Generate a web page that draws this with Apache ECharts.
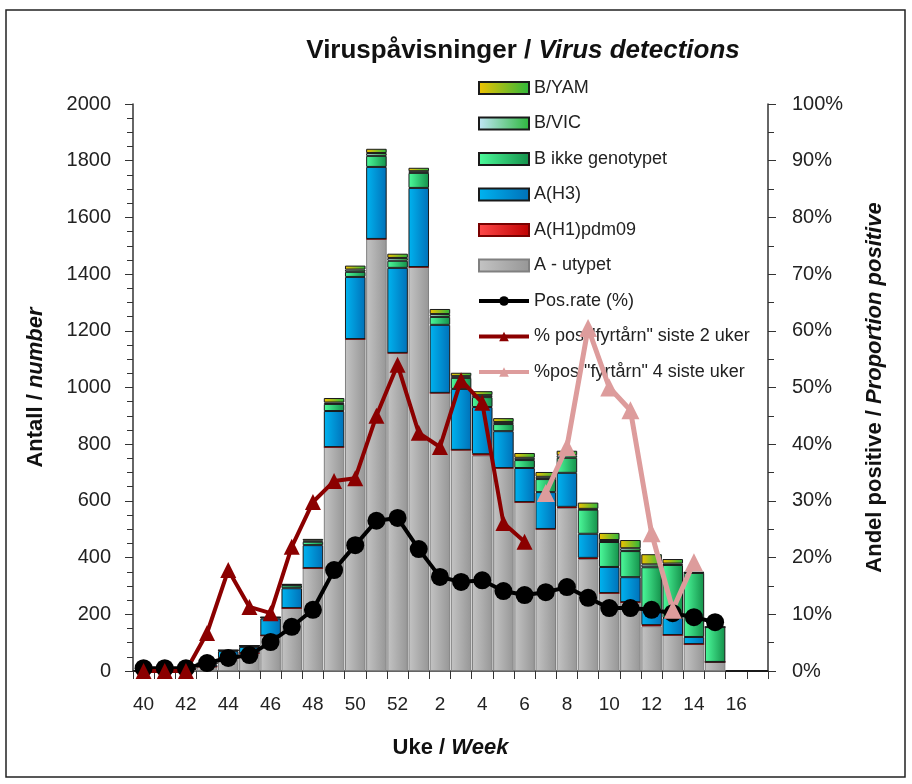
<!DOCTYPE html>
<html>
<head>
<meta charset="utf-8">
<script src="https://cdn.jsdelivr.net/npm/echarts@6/dist/echarts.min.js"></script>
<style>
  html, body { margin: 0; padding: 0; background: #fff; }
  #chart { width: 912px; height: 784px; }
</style>
</head>
<body>
<div id="chart"></div>
<script>
// uke 40-52, 1-17
const weeks = ['40','41','42','43','44','45','46','47','48','49','50','51','52',
  '1','2','3','4','5','6','7','8','9','10','11','12','13','14','15','16','17']

// stabler (antall)
const aUtypet = [1, 2, 5, 15, 45, 63, 125, 222, 363, 790, 1171, 1524, 1122,
  1425, 981, 780, 760, 716, 596, 501, 575, 395, 275, 243, 158, 127, 95, 32, 0, 0]
const aH1 = [0, 0, 0, 0, 0, 0, 0, 0, 0, 0, 0, 0, 0,
  0, 0, 0, 5, 0, 0, 0, 4, 4, 0, 0, 4, 0, 0, 0, 0, 0]
const aH3 = [0, 1, 2, 8, 25, 22, 60, 70, 81, 127, 219, 254, 300,
  279, 240, 215, 166, 130, 120, 130, 120, 85, 92, 88, 54, 60, 25, 0, 0, 0]
const bIkke = [0, 0, 2, 4, 3, 4, 4, 10, 12, 25, 18, 39, 25,
  53, 28, 39, 35, 25, 28, 46, 53, 85, 88, 92, 150, 187, 226, 123, 0, 0]
const bVic = [0, 0, 0, 0, 0, 0, 0, 2, 4, 5, 8, 10, 10,
  6, 10, 6, 7, 7, 8, 8, 9, 3, 7, 10, 10, 5, 1, 0, 0, 0]
const bYam = [0, 0, 0, 0, 0, 0, 1, 3, 6, 16, 14, 15, 15,
  12, 18, 12, 14, 14, 17, 17, 16, 22, 25, 29, 36, 16, 2, 0, 0, 0]

// linjer (%)
const posRate = [0.5, 0.5, 0.5, 1.4, 2.3, 2.8, 5.1, 7.8, 10.8, 17.8, 22.2, 26.5, 27.0,
  21.5, 16.6, 15.7, 16.0, 14.1, 13.4, 13.9, 14.8, 12.9, 11.1, 11.1, 10.8, 10.2, 9.5, 8.6, null, null]
const fyr2 = [0, 0, 0, 6.7, 17.8, 11.3, 10.2, 21.9, 29.8, 33.5, 34, 45, 54,
  42, 39.5, 51.3, 47.3, 26.1, 22.8, null, null, null, null, null, null, null, null, null, null, null]
const fyr4 = [null, null, null, null, null, null, null, null, null, null, null, null, null,
  null, null, null, null, null, null, 31.4, 39.5, 60.5, 50, 46, 24.3, 10.8, 19.2, null, null, null]

const FONT = 'Liberation Sans'

function grad (a, b) {
  return new echarts.graphic.LinearGradient(0, 0, 1, 0, [
    { offset: 0, color: a },
    { offset: 1, color: b }
  ])
}

function barSeries (name, data, c1, c2, border) {
  return {
    name: name,
    type: 'bar',
    stack: 'virus',
    barCategoryGap: '3%',
    data: data,
    itemStyle: {
      color: grad(c1, c2),
      borderColor: border,
      borderWidth: 1
    }
  }
}

function lineSeries (name, data, color, symbol, size, width) {
  return {
    name: name,
    type: 'line',
    yAxisIndex: 1,
    data: data,
    symbol: symbol,
    symbolSize: size,
    showSymbol: true,
    showAllSymbol: true,
    connectNulls: false,
    lineStyle: { color: color, width: width },
    itemStyle: { color: color },
    z: 5
  }
}

function richName (size) {
  return {
    rich: {
      b: { fontFamily: FONT, fontSize: size, fontWeight: 'bold', color: '#111' },
      i: { fontFamily: FONT, fontSize: size, fontWeight: 'bold', fontStyle: 'italic', color: '#111' }
    }
  }
}

const barNames = ['B/YAM', 'B/VIC', 'B ikke genotypet', 'A(H3)', 'A(H1)pdm09', 'A - utypet']
const lineNames = ['Pos.rate (%)', '% pos "fyrtårn" siste 2 uker', '%pos "fyrtårn" 4 siste uker']

const chart = echarts.init(document.getElementById('chart'))
chart.setOption({
  animation: false,
  textStyle: { fontFamily: FONT },
  graphic: [
    {
      type: 'rect',
      shape: { x: 6, y: 10, width: 899, height: 767 },
      style: { fill: 'none', stroke: '#222', lineWidth: 1.5 },
      silent: true
    }
  ],
  title: {
    text: '{b|Viruspåvisninger / }{i|Virus detections}',
    left: 518,
    top: 33,
    textAlign: 'center',
    textStyle: richName(26)
  },
  legend: {
    orient: 'vertical',
    left: 477,
    top: 79,
    padding: 0,
    itemWidth: 50,
    itemHeight: 12,
    itemGap: 17.5,
    textStyle: { fontFamily: FONT, fontSize: 18, color: '#222' },
    data: barNames.map(n => ({ name: n, icon: 'rect' })).concat(lineNames.map(n => ({ name: n }))),
    lineStyle: { width: 4 }
  },
  grid: { left: 133, right: 144, top: 104, bottom: 113 },
  xAxis: {
    type: 'category',
    data: weeks,
    name: '{b|Uke / }{i|Week}',
    nameLocation: 'middle',
    nameGap: 66,
    nameTextStyle: richName(22),
    axisLine: { lineStyle: { color: '#333', width: 1.5 } },
    axisTick: { show: true, length: 8, interval: 0, lineStyle: { color: '#333' } },
    axisLabel: { interval: 1, margin: 24, fontSize: 19, color: '#222' }
  },
  yAxis: [
    {
      type: 'value',
      min: 0,
      max: 2000,
      interval: 200,
      name: '{b|Antall / }{i|number}',
      nameLocation: 'middle',
      nameGap: 86,
      nameTextStyle: richName(22),
      axisLine: { show: true, lineStyle: { color: '#333', width: 1.5 } },
      axisTick: { show: true, length: 8, lineStyle: { color: '#333' } },
      minorTick: { show: true, splitNumber: 4, length: 6, lineStyle: { color: '#333' } },
      splitLine: { show: false },
      axisLabel: { margin: 22, fontSize: 20, color: '#222', formatter: v => String(v) }
    },
    {
      type: 'value',
      min: 0,
      max: 100,
      interval: 10,
      position: 'right',
      name: '{b|Andel positive / }{i|Proportion positive}',
      nameLocation: 'middle',
      nameGap: 96,
      nameTextStyle: richName(22),
      axisLine: { show: true, lineStyle: { color: '#333', width: 1.5 } },
      axisTick: { show: true, length: 8, lineStyle: { color: '#333' } },
      minorTick: { show: true, splitNumber: 2, length: 6, lineStyle: { color: '#333' } },
      splitLine: { show: false },
      axisLabel: { margin: 24, fontSize: 20, color: '#222', formatter: '{value}%' }
    }
  ],
  series: [
    barSeries('A - utypet', aUtypet, '#c4c4c4', '#969696', '#808080'),
    barSeries('A(H1)pdm09', aH1, '#ff4a4a', '#c00000', '#7a0000'),
    barSeries('A(H3)', aH3, '#00b4f0', '#0070b8', '#1a1a1a'),
    barSeries('B ikke genotypet', bIkke, '#4dfc9c', '#14904a', '#1a1a1a'),
    barSeries('B/VIC', bVic, '#c2e6f8', '#2cb83c', '#1a1a1a'),
    barSeries('B/YAM', bYam, '#f2c200', '#2cb83c', '#1a1a1a'),
    lineSeries('Pos.rate (%)', posRate, '#000000', 'circle', 18, 4),
    lineSeries('% pos "fyrtårn" siste 2 uker', fyr2, '#8b0000', 'triangle', 16, 4),
    lineSeries('%pos "fyrtårn" 4 siste uker', fyr4, '#dd9c9c', 'triangle', 18, 5)
  ]
})
</script>
</body>
</html>
